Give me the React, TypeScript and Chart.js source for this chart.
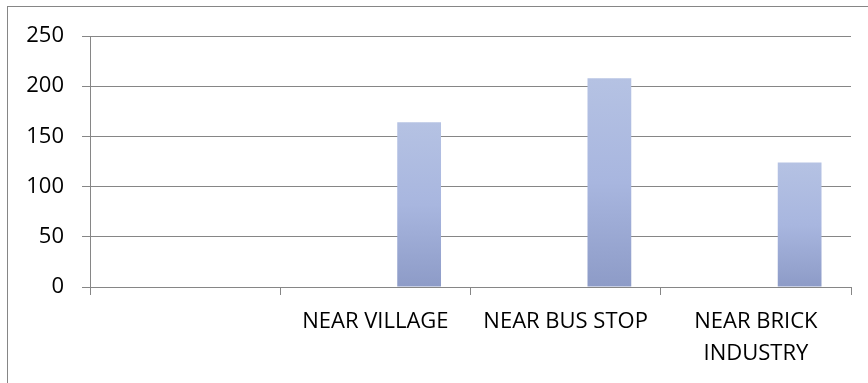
import React, { useEffect, useRef } from "react";
import { Chart, registerables } from "chart.js";

Chart.register(...registerables);

// Sampling locations along the x axis (the first slot is left blank)
const locations: (string | string[])[] = [
  "",
  "NEAR VILLAGE",
  "NEAR BUS STOP",
  ["NEAR BRICK", "INDUSTRY"],
];

// Two empty series keep their slots in each group; the third holds the readings
const seriesA: (number | null)[] = [null, null, null, null];
const seriesB: (number | null)[] = [null, null, null, null];
const readings: (number | null)[] = [null, 164, 208, 124];

// Y axis range and step
const yMin = 0;
const yMax = 250;
const yStep = 50;

const WIDTH = 868;
const HEIGHT = 383;
const FONT = "'Open Sans', 'Noto Sans', sans-serif";
const GRID = "#868686";

// Vertical gradient per bar, light at the top and darker at the base
function barFill(ctx: any) {
  const chart = ctx.chart;
  const area = chart.chartArea;
  const v = ctx.raw;
  if (!area || v == null) return "#a8b6df";
  const y = chart.scales.y;
  const top = y.getPixelForValue(v);
  const base = y.getPixelForValue(0);
  if (!isFinite(top) || base - top < 1) return "#a8b6df";
  const g = chart.ctx.createLinearGradient(0, top, 0, base);
  g.addColorStop(0, "#b5c2e3");
  g.addColorStop(0.5, "#a8b6df");
  g.addColorStop(1, "#8d9bc7");
  return g;
}

// Thin grey frame around the whole chart
const framePlugin = {
  id: "frame",
  afterDraw(chart: any) {
    const c = chart.ctx;
    c.save();
    c.strokeStyle = GRID;
    c.lineWidth = 1;
    c.strokeRect(7.5, 6.5, WIDTH + 20, HEIGHT + 20);
    c.restore();
  },
};

export default function App() {
  const ref = useRef<HTMLCanvasElement | null>(null);

  useEffect(() => {
    if (!ref.current) return;
    const bar = (data: (number | null)[]) => ({
      data,
      backgroundColor: barFill,
      borderWidth: 0,
      categoryPercentage: 0.69,
      barPercentage: 1.0,
    });
    const chart = new Chart(ref.current, {
      type: "bar",
      data: {
        labels: locations,
        datasets: [bar(seriesA), bar(seriesB), bar(readings)],
      },
      options: {
        responsive: false,
        animation: false,
        layout: { padding: { top: 36, right: 17, left: 0, bottom: 0 } },
        plugins: {
          legend: { display: false },
          tooltip: { enabled: false },
        },
        scales: {
          x: {
            grid: {
              offset: true,
              drawOnChartArea: false,
              drawTicks: true,
              tickLength: 8,
              color: GRID,
            },
            border: { display: true, color: GRID },
            ticks: {
              color: "#000",
              font: { family: FONT, size: 22, lineHeight: 1.48 },
              padding: 10,
              maxRotation: 0,
              autoSkip: false,
            },
            afterFit(scale: any) {
              scale.height = 96;
            },
          },
          y: {
            min: yMin,
            max: yMax,
            grid: { color: GRID, tickLength: 8, drawTicks: true },
            border: { display: true, color: GRID },
            ticks: {
              stepSize: yStep,
              color: "#000",
              font: { family: FONT, size: 22 },
              padding: 18,
            },
            afterFit(scale: any) {
              scale.width = 90;
            },
          },
        },
      },
      plugins: [framePlugin],
    });
    return () => chart.destroy();
  }, []);

  return (
    <canvas
      ref={ref}
      width={WIDTH}
      height={HEIGHT}
      style={{ position: "fixed", left: 0, top: 0, display: "block", background: "#fff" }}
    />
  );
}
